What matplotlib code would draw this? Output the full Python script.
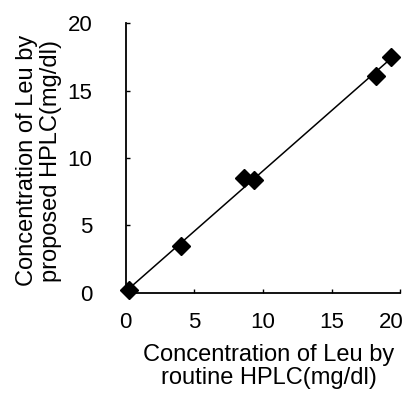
import numpy as np
import matplotlib
matplotlib.use('Agg')
import matplotlib.pyplot as plt
from matplotlib.transforms import ScaledTranslation

plt.rcParams['font.family'] = ['Liberation Sans', 'DejaVu Sans']

# Leu concentrations (mg/dl)
routine = [0.24, 4.05, 8.62, 9.35, 18.24, 19.34]
proposed = [0.2, 3.45, 8.53, 8.4, 16.07, 17.5]
ticks = [0, 5, 10, 15, 20]

fig = plt.figure(figsize=(4.11, 3.99), dpi=100)
ax = fig.add_axes([0.306, 0.266, 0.668, 0.676])

# regression line
p = np.polyfit(routine, proposed, 1)
xx = np.array([min(routine), max(routine)])
ax.plot(xx, np.polyval(p, xx), color='black', lw=1.1, clip_on=False)
ax.plot(routine, proposed, 'D', color='black', ms=9, clip_on=False)

ax.set_xlim(0, 20)
ax.set_ylim(0, 20)
ax.set_xticks(ticks)
ax.set_yticks(ticks)
for s in ['top', 'right']:
    ax.spines[s].set_visible(False)
for s in ['left', 'bottom']:
    ax.spines[s].set_linewidth(1.3)
ax.tick_params(direction='in', length=3, width=1.0, labelsize=16)
ax.tick_params(axis='x', pad=14)
ax.tick_params(axis='y', pad=24)

# last x label sits a little to the left, as in the original
fig.canvas.draw()
lab = ax.get_xticklabels()[-1]
lab.set_transform(lab.get_transform() + ScaledTranslation(-9/100, 0, fig.dpi_scale_trans))

ax.set_xlabel('Concentration of Leu by\nroutine HPLC(mg/dl)', fontsize=17, linespacing=1.05)
ax.set_ylabel('Concentration of Leu by\nproposed HPLC(mg/dl)', fontsize=17, linespacing=1.15)
ax.xaxis.set_label_coords(0.52, -0.19)
ax.yaxis.set_label_coords(-0.232, 0.49)

fig.savefig('out.png', dpi=100)
